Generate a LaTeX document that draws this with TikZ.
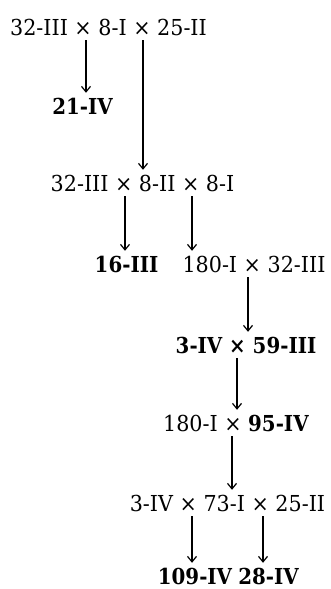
\documentclass[tikz,border=0pt]{standalone}
\usepackage{fontspec}
\setmainfont{DejaVu Serif}[FakeStretch=0.94, BoldFeatures={FakeStretch=0.9}]
\usetikzlibrary{arrows.meta}
\tikzset{
  lbl/.style={anchor=base, inner xsep=0pt, inner ysep=5pt, text height=16pt, text depth=0pt,
    font=\fontsize{22}{26}\selectfont},
  res/.style={lbl, font=\fontsize{22}{26}\selectfont\bfseries},
  last/.style={res, inner ysep=1.5pt, text height=19.5pt},
  arr/.style={line width=1.2pt, -{Straight Barb[length=5.5pt,width=9pt,line width=1.2pt]}}
}
\newcommand{\x}{ × }
\begin{document}
\begin{tikzpicture}[x=1pt,y=1pt]
\useasboundingbox (0,0) rectangle (331,-589);
\node[lbl] (r1) at (108.5,-35) {32-III\x 8-I\x 25-II};
\node[res] (n21) at (82.5,-114) {21-IV};
\node[lbl] (r3) at (142.5,-191) {32-III\x 8-II\x 8-I};
\node[res] (n16) at (126.5,-272) {16-III};
\node[lbl] (r4) at (254,-272) {180-I\x 32-III};
\node[res] (r5) at (246,-353) {3-IV\x 59-III};
\node[lbl] (r6) at (236,-431) {180-I\x\textbf{95-IV}};
\node[lbl] (r7) at (227.5,-511) {3-IV\x 73-I\x 25-II};
\node[last] (n109) at (195,-584) {109-IV};
\node[last] (n28) at (268.5,-584) {28-IV};
\coordinate (c1) at (86,0);
\coordinate (c2) at (143,0);
\coordinate (c3) at (125,0);
\coordinate (c4) at (192,0);
\coordinate (c5) at (248,0);
\coordinate (c6) at (237,0);
\coordinate (c7) at (232,0);
\coordinate (c8) at (192,0);
\coordinate (c9) at (263,0);
\draw[arr] (r1.south -| c1) -- (n21.north -| c1);
\draw[arr] (r1.south -| c2) -- (r3.north -| c2);
\draw[arr] (r3.south -| c3) -- (n16.north -| c3);
\draw[arr] (r3.south -| c4) -- (r4.north -| c4);
\draw[arr] (r4.south -| c5) -- (r5.north -| c5);
\draw[arr] (r5.south -| c6) -- (r6.north -| c6);
\draw[arr] (r6.south -| c7) -- (r7.north -| c7);
\draw[arr] (r7.south -| c8) -- (n109.north -| c8);
\draw[arr] (r7.south -| c9) -- (n28.north -| c9);
\end{tikzpicture}
\end{document}
